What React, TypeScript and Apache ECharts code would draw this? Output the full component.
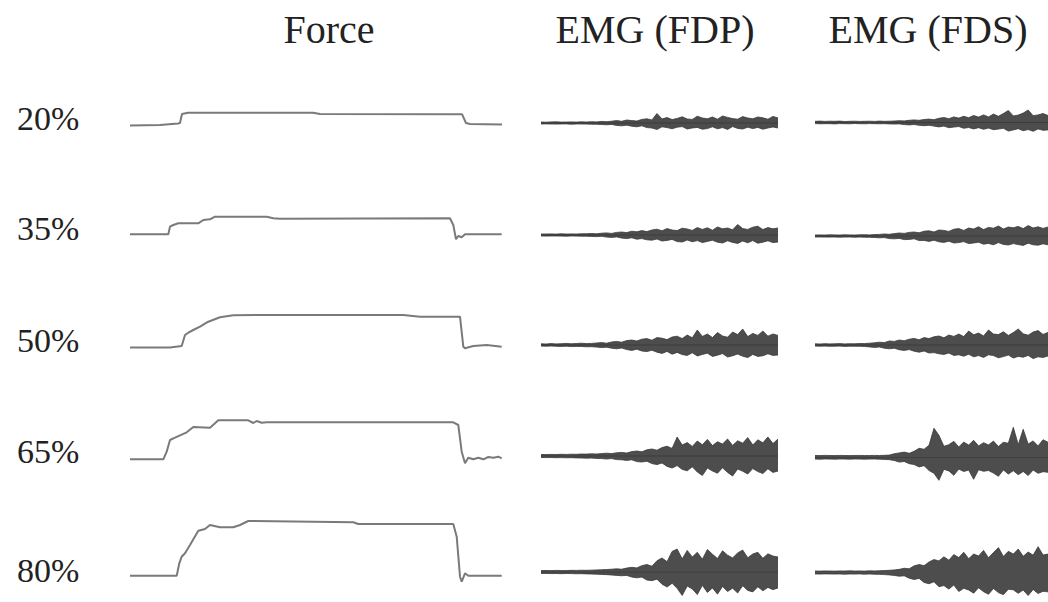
import React, { useEffect, useRef } from "react";
import * as echarts from "echarts";

// Column titles and row labels
const columnTitles = ["Force", "EMG (FDP)", "EMG (FDS)"];
const rowLabels = ["20%", "35%", "50%", "65%", "80%"];

// Force traces: [time, force] pairs (time in display units 0..372, force in display units)
const force20 = [[0,0],[30,0.5],[48,2],[50,2.5],[52,11.5],[58,12.8],[183,12.8],[190,11.5],[332,11.3],[336,2.5],[340,1.5],[372,1]];
const force35 = [[0,0],[38.3,0],[40,7.6],[43.3,9.3],[48.3,11],[68.3,11],[73.3,14.3],[80,15],[85,17.6],[136.7,17.6],[143.3,16],[150,15.5],[320,16],[323.3,9.3],[326,-5],[328.3,-1.7],[331.7,-3],[335,0],[371.7,0]];
const force50 = [[0,0],[40,0],[51.7,1.5],[55,12.5],[58.3,14.8],[63.3,17.5],[70,20.8],[78.3,25.8],[90,30.2],[103.3,32.2],[130,32.5],[273.3,32.5],[290,30.8],[330,30.8],[333.3,0.8],[335,-0.8],[343.3,1.5],[356.7,2.5],[371.7,0.8]];
const force65 = [[0,0],[33.3,0],[36.7,7.6],[40,19.3],[45,21.6],[56.7,27],[63.3,32.3],[80,31.6],[85,36],[88.3,39],[118.3,39],[123.3,36.3],[126.7,38.3],[131.7,36.6],[136.7,37],[323.3,37],[328.3,34.3],[331.7,7.6],[335,-4],[338.3,1.6],[343.3,0],[348.3,1.6],[353.3,0],[358.3,2.3],[363.3,1.6],[368.3,2.6],[371.7,1]];
const force80 = [[0,0],[46.7,0],[49.3,12.4],[51.7,19],[55,22.4],[60,30.7],[68.3,45],[75,46.7],[80,50.7],[90,48.4],[103.3,48.4],[110,50.7],[118.3,54.7],[223.3,53.4],[228.3,51.7],[323.3,51.7],[326.7,39],[330,-1],[331.7,-6],[335,2.4],[338.3,0],[371.7,0]];

// EMG envelopes (upper and lower amplitude, 48 samples each)
const fdpUp20 = [1,0.8,1.1,1.2,0.9,1,1.1,0.9,1.2,1,1.3,1.1,1.6,1.3,1.8,2.4,1.7,3,2.4,2,3.6,4.2,3,9.5,4,5.5,3.4,4.6,6.2,4,3.6,6.8,5,4.2,6,3.8,7,5.6,4.4,3.8,6.4,5,4.2,6,5.2,3.8,6.6,5];
const fdpLo20 = [1,0.9,1,1.1,1,0.9,1.2,1,1,1.1,1.2,1.3,1.5,1.8,1.4,2.4,2.8,2.2,3.2,3.8,2.8,4.6,5,6.5,3.8,4.6,5.8,4.2,3.6,6,5,4.4,6.2,5.6,3.8,5.8,4.6,6.4,3.6,5.4,6,4.2,5.6,4.4,6.2,5,4,5];
const fdpUp35 = [1,1,1.1,0.9,1.2,1,1.1,1,1.2,1.3,1.5,1.2,1.8,2.1,1.6,2.6,3,2.4,3.8,3.2,4.4,3.4,5,5.8,4.2,6.4,5,4.4,6.8,6,4.6,7.4,5.6,7.2,4.8,8,6.2,7,5.2,10.5,6.4,5.6,7.8,8.8,5.4,7.4,6.2,7];
const fdpLo35 = [1,1.1,1,1,1.1,1.2,1,1.1,1.2,1.2,1.4,1.6,1.3,2.1,2.4,1.9,3.1,3.6,2.8,4.2,3.6,4.8,5.2,4,6,5.4,4.4,6.6,7,5,6.8,5.6,7.6,6.4,5.2,7.2,8,5.8,7.4,8.4,6,7.8,5.6,8.2,7.2,5.8,7.6,7];
const fdpUp50 = [1.2,1,1.4,1.1,1.3,1.6,1.2,1.5,1.8,1.4,1.6,2,2.4,1.8,3,3.6,2.8,4.4,5,4,5.8,6.4,4.8,7.4,6.8,5.4,8,8.8,6.4,10,7.2,15,8.6,11,7.4,12.5,9,7.8,13,10.4,16,8.4,11.6,9.6,14,8.8,11,9.6];
const fdpLo50 = [1.1,1.2,1,1.3,1.4,1.2,1.6,1.4,1.5,1.8,1.7,2.1,2.6,2.2,3.2,3.8,3,4.6,5.4,4.2,6,6.6,5.2,7.2,8.4,6.4,9.2,7.4,9.6,10.4,7.8,11,9.4,8.2,11.4,10.2,8.6,12,10.8,9,11.2,12.6,9.4,11.4,10.8,8.8,10.4,10];
const fdpUp65 = [1.5,1.4,1.6,1.5,1.7,1.6,1.8,1.7,2,1.9,2.2,2,2.4,2.8,2.4,3.2,3.6,3,4.4,5,4.2,6.2,7,5.8,8.4,9.8,7.6,19,11,13.4,9.6,15,11.2,16.6,10.4,14.2,12,17,10.6,15.2,12.8,18.4,11,16.2,13.2,19,12.4,17];
const fdpLo65 = [1.5,1.6,1.5,1.7,1.6,1.8,1.7,1.9,2,2.2,2.1,2.4,2.6,3,2.6,3.6,3.8,4.4,3.8,5.6,6,5.2,7.6,8.6,7,10.4,12,9.6,13.4,14.8,10.8,16,19.5,12,15,17.2,11.8,16.4,20,13,15.2,18,12.6,15.6,17.6,12.8,16.4,15];
const fdpUp80 = [1.5,1.6,1.5,1.7,1.6,1.5,1.8,1.7,1.9,1.8,2,2.2,2.4,2.6,3,3.4,3,4.2,5,4.4,6.8,8,6.2,12,15,11,22,24.5,14,23,16,21,13.6,24,19,14.4,22.6,18,15,20.4,23.4,15.2,19.2,21,14.6,19.4,17,16];
const fdpLo80 = [1.5,1.5,1.7,1.6,1.8,1.6,1.7,1.9,1.8,2,2.2,2.3,2.6,2.8,3.2,3.6,4,3.6,5.4,6.2,5.4,8.6,9.2,7.6,13,16,12,17.4,25,15,18,24,14.2,21.8,17,23.6,15.4,20.8,17.2,22.4,14.6,19.6,21.2,15.8,20,16.4,18.8,17];

const fdsUp20 = [1.2,1.4,1.1,1.3,1.2,1.4,1,1.2,1.3,1.1,1.2,1.3,1.1,1.4,1.2,1.3,1.5,1.8,1.6,2.2,2.6,2.2,3,3.4,2.8,4.2,5,3.8,5.6,4.4,6.2,4.8,7,5.4,7.6,5.6,8.4,6.2,9,12,6.6,7.4,9.4,12.5,6.8,7.6,9,7];
const fdsLo20 = [1.1,1.3,1.2,1.2,1.4,1.1,1.2,1.3,1,1.2,1.3,1.1,1.2,1.3,1.2,1.4,1.6,1.4,2.1,2.4,2,2.8,3.2,2.8,3.6,4.4,3.6,5.2,4.6,4,5.8,5,6.4,5.2,6.8,5.6,7.2,6.6,5.8,8.6,7.4,6.2,8.2,7,8.8,6.4,7.8,7.4];
const fdsUp35 = [1,1.1,1,1.2,1.1,1,1.2,1.1,1,1.2,1.3,1.1,1.4,1.6,2,1.7,2.4,3,2.6,3.6,4,3.2,4.8,5.2,4,6,5.6,4.6,6.8,7.4,5.6,8,7,9.2,6.4,8.6,7.8,10,7,9,8.2,9.6,7.4,10.4,8,9.2,7.6,9];
const fdsLo35 = [1,1,1.1,1.1,1,1.2,1.1,1,1.2,1.1,1.2,1.3,1.5,1.8,1.6,2.6,2.8,2.4,3.6,3.4,2.8,4.6,4.4,5.4,4.2,5.8,6.4,5.2,7,6.6,5.6,7.6,7,6.2,8.2,7.4,8.8,6.6,8.4,9,7.6,8.6,9.4,7.2,8.8,9.2,7.8,8.8];
const fdsUp50 = [1.2,1,1.3,1.1,1.2,1.4,1.1,1.3,1.2,1.5,1.4,1.8,2.2,2.8,2.4,4,3.6,5,4.2,5.8,6.6,5.2,7.4,6.4,8.2,9,7.2,10,8.6,11,8.4,14,10.2,12,9,15,11,10.4,13.2,9.6,12.4,16,11.2,9.8,13,14.4,10.6,12.6];
const fdsLo50 = [1.1,1.2,1.1,1.3,1.2,1.1,1.4,1.2,1.3,1.3,1.5,1.9,2.4,2,3.2,3.8,3.2,4.8,5.4,4.6,6.2,7.2,6,8,7.6,8.8,9.4,8,10.4,9.8,11.2,9.2,11.8,10.6,12.4,9.8,10.6,12.8,11.6,10,13,11.4,12.2,10.4,13.6,11.8,12.4,11];
const fdsUp65 = [1.8,1.7,1.9,1.8,1.7,1.9,1.8,1.7,1.8,1.9,1.7,1.8,1.9,1.8,2,2.2,3.6,4.4,5.2,4,6,9,8,12,29,22,11,12.6,16,10.4,15.2,12.2,17,11.4,14.6,12.4,16.2,10.8,15,14,30,12.6,28,13.2,16.4,11.4,17.6,15];
const fdsLo65 = [1.8,1.9,1.7,1.8,1.9,1.7,1.8,1.9,1.7,1.8,1.9,1.8,1.7,1.9,2.1,2.4,3.2,4.8,4.2,6.4,7.2,9.6,8.4,13.2,16,23,12,13.6,18,11.8,14.2,12.8,22,12.4,14,13.2,15.8,19,12.6,16.8,13.4,17.4,14.2,18.2,12.8,16,14.4,15];
const fdsUp80 = [1.6,1.5,1.7,1.6,1.5,1.7,1.6,1.8,1.6,1.7,1.5,1.8,1.7,1.9,2.1,2.4,2.8,3.4,4.6,4,7.2,8.6,7.4,11.4,14,12.6,17,13.4,19.4,16.2,22,15,20,18,24,16,21.6,27,17.4,23,20,25.4,17.6,22.2,18.8,28,19,20];
const fdsLo80 = [1.6,1.7,1.5,1.6,1.7,1.6,1.8,1.6,1.7,1.5,1.8,1.6,1.9,2,2.3,2.6,3.2,4,3.6,6.2,7.6,6.4,10.8,12.2,10,15.4,14.2,18,13.6,20.6,17.2,19,22.4,16.6,20.8,23.6,17.4,21.8,24,18.2,18.8,22.6,19,25,18.4,22.8,20.4,21];

const forceTraces = [force20, force35, force50, force65, force80];
const fdpUp = [fdpUp20, fdpUp35, fdpUp50, fdpUp65, fdpUp80];
const fdpLo = [fdpLo20, fdpLo35, fdpLo50, fdpLo65, fdpLo80];
const fdsUp = [fdsUp20, fdsUp35, fdsUp50, fdsUp65, fdsUp80];
const fdsLo = [fdsLo20, fdsLo35, fdsLo50, fdsLo65, fdsLo80];

// Layout (pixels)
const forceBase = [125.5, 234.3, 347.5, 459.3, 575.7];
const fdpBase = [123, 235, 345, 456, 574];
const fdsBase = [122.5, 236, 345, 457.3, 575];
const labelY = [118.5, 228.5, 340, 451.5, 570];
const titleX = [329, 655, 928];

const FONT = '"Liberation Serif", "DejaVu Serif", serif';
const FORCE_COLOR = "#7a7a7a";
const EMG_COLOR = "#3a3a3a";

export default function App() {
  const ref = useRef<HTMLDivElement>(null);
  useEffect(() => {
    if (!ref.current) return;
    const chart = echarts.init(ref.current, null, { renderer: "svg" });
    const grid: any[] = [];
    const xAxis: any[] = [];
    const yAxis: any[] = [];
    const series: any[] = [];
    const hidden = { show: false };

    rowLabels.forEach((_, r) => {
      // Force
      let gi = grid.length;
      grid.push({ left: 130, width: 372, top: forceBase[r] - 58, height: 70 });
      xAxis.push({ type: "value", gridIndex: gi, min: 0, max: 372, ...hidden });
      yAxis.push({ type: "value", gridIndex: gi, min: -12, max: 58, ...hidden });
      series.push({
        type: "line", xAxisIndex: gi, yAxisIndex: gi, data: forceTraces[r],
        symbol: "none", lineStyle: { color: FORCE_COLOR, width: 2 }, silent: true,
      });
      // EMG columns
      const cols = [
        { left: 541, width: 237, base: fdpBase[r], up: fdpUp[r], lo: fdpLo[r] },
        { left: 815, width: 233, base: fdsBase[r], up: fdsUp[r], lo: fdsLo[r] },
      ];
      cols.forEach((c) => {
        gi = grid.length;
        grid.push({ left: c.left, width: c.width, top: c.base - 32, height: 64 });
        xAxis.push({ type: "value", gridIndex: gi, min: 0, max: c.up.length - 1, ...hidden });
        yAxis.push({ type: "value", gridIndex: gi, min: -32, max: 32, ...hidden });
        const mk = (vals: number[], origin: number) => ({
          type: "line", xAxisIndex: gi, yAxisIndex: gi,
          data: vals.map((v, i) => [i, v]),
          symbol: "none", silent: true,
          lineStyle: { color: EMG_COLOR, width: 0.8 },
          areaStyle: { color: EMG_COLOR, opacity: 0.9, origin },
        });
        series.push(mk(c.up, -0.4));
        series.push(mk(c.lo.map((v) => -v), 0.4));
      });
    });

    const graphic: any[] = [];
    columnTitles.forEach((t, i) => {
      graphic.push({
        type: "text", x: titleX[i], y: 29,
        style: { text: t, font: `40px ${FONT}`, fill: "#222", align: "center", verticalAlign: "middle" },
      });
    });
    rowLabels.forEach((t, i) => {
      graphic.push({
        type: "text", x: 17, y: labelY[i],
        style: { text: t, font: `34px ${FONT}`, fill: "#222", align: "left", verticalAlign: "middle" },
      });
    });

    chart.setOption({
      animation: false,
      backgroundColor: "#ffffff",
      grid, xAxis, yAxis, series, graphic,
    });
    return () => chart.dispose();
  }, []);
  return (
    <div
      ref={ref}
      style={{ position: "absolute", left: 0, top: 0, width: 1048, height: 602 }}
    />
  );
}
